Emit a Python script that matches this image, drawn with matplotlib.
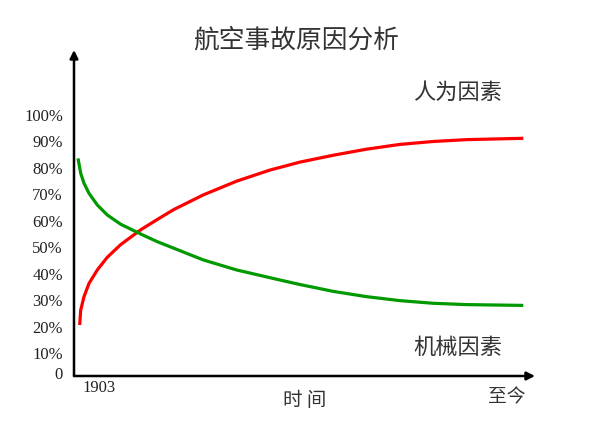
import matplotlib
matplotlib.use('Agg')
import matplotlib.pyplot as plt

plt.rcParams['font.family'] = ['Noto Sans CJK SC', 'DejaVu Sans']

# 时间轴位置 (0 = 1903, 1 = 至今)
x_human = [0.0124, 0.0145, 0.0217, 0.0325, 0.0505, 0.0722, 0.1013, 0.1447, 0.1807, 0.2169,
           0.2805, 0.3529, 0.4252, 0.4902, 0.5625, 0.6349, 0.7072, 0.7794, 0.8518, 0.9746]
y_human = [20.6, 26.2, 31.3, 36.3, 41.4, 46.2, 51.0, 56.6, 60.5, 64.3,
           69.8, 75.0, 79.2, 82.2, 84.8, 87.1, 88.9, 90.0, 90.7, 91.2]

x_mech = [0.0087, 0.0145, 0.0217, 0.0325, 0.0505, 0.0722, 0.1013, 0.1447, 0.1807, 0.2169,
          0.2805, 0.3529, 0.4469, 0.4902, 0.5625, 0.6349, 0.7072, 0.7794, 0.8518, 0.9746]
y_mech = [83.6, 78.0, 74.2, 70.4, 66.0, 62.2, 58.7, 55.0, 52.1, 49.6,
          45.2, 41.4, 37.6, 35.9, 33.3, 31.3, 29.8, 28.8, 28.3, 28.0]

tick_vals = [2.4, 10, 20, 30, 40, 50, 60, 70, 80, 90, 100]
tick_labels = ['0', '10%', '20%', '30%', '40%', '50%', '60%', '70%', '80%', '90%', '100%']

fig = plt.figure(figsize=(6, 4.26), dpi=100)
ax = fig.add_axes([74/600, 50/426, 461/600, 326/426])
ax.set_xlim(0, 1)
ax.set_ylim(1.3, 124.6)

ax.plot(x_human, y_human, color='#ff0000', lw=2.3, solid_capstyle='butt', solid_joinstyle='round')
ax.plot(x_mech, y_mech, color='#009900', lw=2.3, solid_capstyle='butt', solid_joinstyle='round')

for s in ax.spines.values():
    s.set_visible(False)
ax.set_xticks([])
ax.set_yticks(tick_vals)
ax.set_yticklabels(tick_labels, family='Liberation Serif', fontsize=12, color='#222222')
ax.tick_params(axis='y', length=0, pad=8)

# 坐标轴箭头
arrow = dict(arrowstyle='-|>', color='black', lw=1.8, mutation_scale=12, shrinkA=0, shrinkB=0)
ax.annotate('', xy=(0, 1), xytext=(0, 0), xycoords='axes fraction', arrowprops=arrow)
ax.annotate('', xy=(1, 0), xytext=(0, 0), xycoords='axes fraction', arrowprops=arrow)

txt = dict(ha='center', va='center', color='#333333', fontweight='light')
fig.text(296/600, 1 - 41/426, '航空事故原因分析', fontsize=18.5, **txt)
fig.text(458/600, 1 - 92/426, '人为因素', fontsize=16, **txt)
fig.text(458/600, 1 - 347/426, '机械因素', fontsize=16, **txt)
fig.text(305/600, 1 - 400/426, '时 间', fontsize=14, **txt)
fig.text(507/600, 1 - 397/426, '至今', fontsize=13.5, **txt)
fig.text(99/600, 1 - 388/426, '1903', ha='center', va='center', family='Liberation Serif',
         fontsize=12, color='#222222')

fig.savefig('out.png', dpi=100)
